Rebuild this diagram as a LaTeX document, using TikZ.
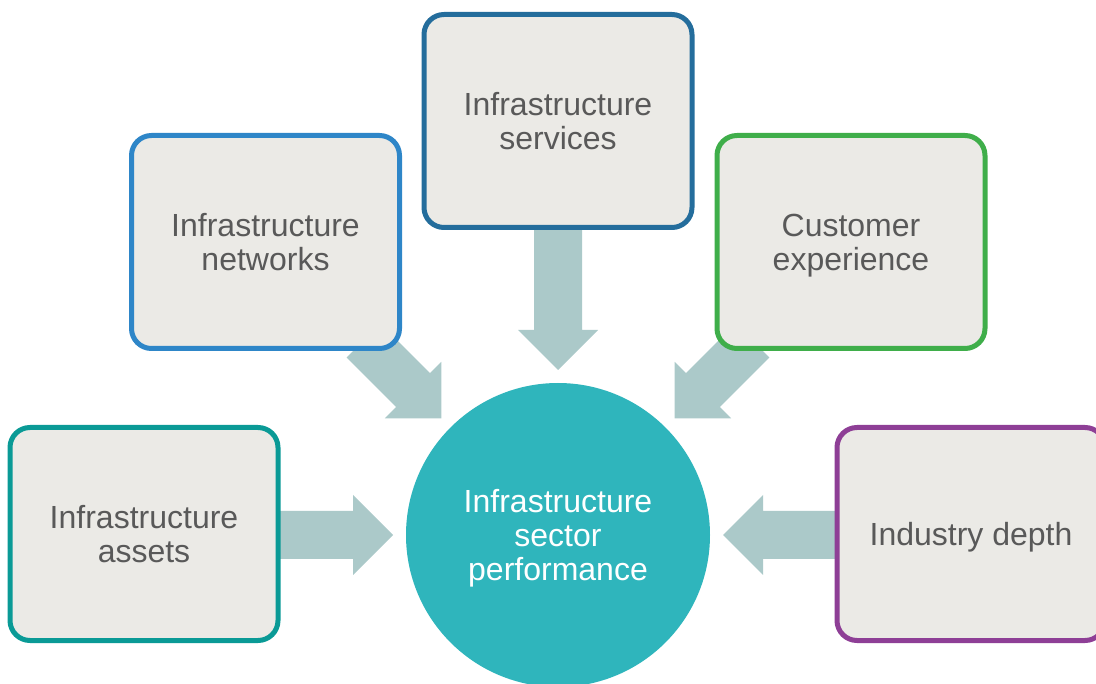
\documentclass[tikz,border=0pt]{standalone}
\usepackage{fontspec}
\setmainfont{Liberation Sans}
\usetikzlibrary{calc}

\definecolor{boxfill}{HTML}{EBEAE6}
\definecolor{boxtext}{HTML}{595959}
\definecolor{arrowfill}{HTML}{ABC9C9}
\definecolor{hubfill}{HTML}{2FB5BC}
\definecolor{assetsline}{HTML}{0A9A96}
\definecolor{networksline}{HTML}{2E86C8}
\definecolor{servicesline}{HTML}{246D9C}
\definecolor{customerline}{HTML}{3FAE4A}
\definecolor{industryline}{HTML}{8E3F96}

\tikzset{
  labelfont/.style={font=\fontsize{32pt}{34pt}\selectfont, text depth=0pt},
  factorbox/.style={draw=#1, line width=5pt, fill=boxfill, rounded corners=20pt,
    minimum width=268pt, minimum height=213pt, inner sep=0pt, outer sep=0pt,
    align=center, text=boxtext, labelfont},
  hubnode/.style={circle, fill=hubfill, minimum size=304pt, inner sep=0pt, outer sep=0pt,
    align=center, text=white, labelfont},
}

% block arrow from coordinate #1 (tail) to coordinate #2 (tip)
\newcommand\blockarrow[2]{%
  \path coordinate (bh) at ($(#2)!40pt!(#1)$);
  \fill[arrowfill]
    ($(#1)!24pt!90:(#2)$) -- ($(bh)!24pt!90:(#2)$) -- ($(bh)!40pt!90:(#2)$)
    -- (#2)
    -- ($(bh)!40pt!-90:(#2)$) -- ($(bh)!24pt!-90:(#2)$) -- ($(#1)!24pt!-90:(#2)$)
    -- cycle;
}

\begin{document}
\begin{tikzpicture}[x=1pt,y=-1pt]
  \useasboundingbox (0,0) rectangle (1096,684);
  \clip (0,0) rectangle (1096,684);

  % central hub
  \node[hubnode] (hub) at (558,535) {Infrastructure\\sector\\performance};

  % arrow tips, a fixed gap outside the hub
  \coordinate (tipW)  at ($(hub.center)!165pt!(hub.west)$);
  \coordinate (tipE)  at ($(hub.center)!165pt!(hub.east)$);
  \coordinate (tipN)  at ($(hub.center)!165pt!(hub.north)$);
  \coordinate (tipNW) at ($(hub.center)!165pt!(hub.135)$);
  \coordinate (tipNE) at ($(hub.center)!165pt!(hub.45)$);

  % arrow tails, hidden under the boxes
  \coordinate (tailW)  at ($(tipW)!-130pt!(hub.center)$);
  \coordinate (tailE)  at ($(tipE)!-130pt!(hub.center)$);
  \coordinate (tailN)  at ($(tipN)!-160pt!(hub.center)$);
  \coordinate (tailNW) at ($(tipNW)!-110pt!(hub.center)$);
  \coordinate (tailNE) at ($(tipNE)!-110pt!(hub.center)$);

  \blockarrow{tailW}{tipW}
  \blockarrow{tailE}{tipE}
  \blockarrow{tailN}{tipN}
  \blockarrow{tailNW}{tipNW}
  \blockarrow{tailNE}{tipNE}

  % contributing factors
  \node[factorbox=assetsline]   (assets)   at (144,534)   {Infrastructure\\assets};
  \node[factorbox=networksline] (networks) at (265.5,242) {Infrastructure\\networks};
  \node[factorbox=servicesline] (services) at (558,121)   {Infrastructure\\services};
  \node[factorbox=customerline] (customer) at (851,242)   {Customer\\experience};
  \node[factorbox=industryline] (industry) at (971,534)   {Industry depth};
\end{tikzpicture}
\end{document}
